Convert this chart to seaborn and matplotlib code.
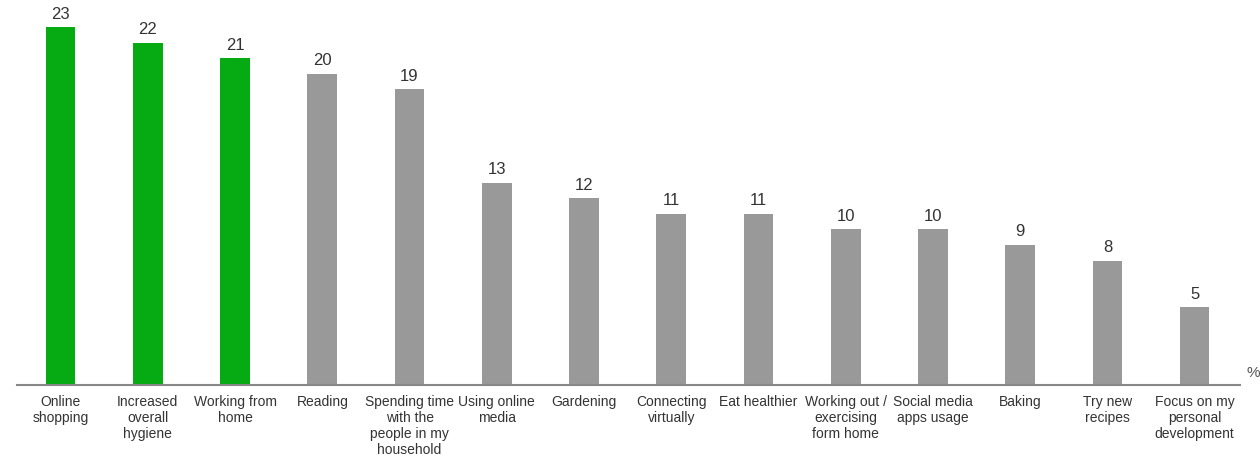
import seaborn as sns
import matplotlib.pyplot as plt
import pandas as pd

categories = ["Online\nshopping", "Increased\noverall\nhygiene", "Working from\nhome", "Reading",
              "Spending time\nwith the\npeople in my\nhousehold", "Using online\nmedia", "Gardening",
              "Connecting\nvirtually", "Eat healthier", "Working out /\nexercising\nform home",
              "Social media\napps usage", "Baking", "Try new\nrecipes", "Focus on my\npersonal\ndevelopment"]
values = [23, 22, 21, 20, 19, 13, 12, 11, 11, 10, 10, 9, 8, 5]
groups = ["top"] * 3 + ["rest"] * 11

df = pd.DataFrame({"activity": categories, "pct": values, "group": groups})

sns.set_style("white")
plt.rcParams["font.family"] = ["Liberation Sans", "DejaVu Sans"]

fig = plt.figure(figsize=(12.6, 4.62), dpi=100)
ax = fig.add_axes([17 / 1260, 77 / 462, 1223 / 1260, 385 / 462])

sns.barplot(data=df, x="activity", y="pct", hue="group", dodge=False, legend=False,
            palette={"top": "#06AA13", "rest": "#999999"}, width=0.34, saturation=1,
            linewidth=0, ax=ax)

for c in ax.containers:
    ax.bar_label(c, padding=4, fontsize=12, color="#333333")

ax.set_xlim(-0.5, 13.52)
ax.set_ylim(0, 24.75)
ax.set_xlabel("")
ax.set_ylabel("")
ax.set_yticks([])
ax.tick_params(axis="x", length=0, pad=7, labelsize=10, labelcolor="#333333")
for s in ["top", "right", "left"]:
    ax.spines[s].set_visible(False)
ax.spines["bottom"].set_color("#888888")
ax.spines["bottom"].set_linewidth(1.5)
ax.text(1.005, 0.02, "%", transform=ax.transAxes, fontsize=11, color="#555555")

fig.savefig("out.png", dpi=100)
